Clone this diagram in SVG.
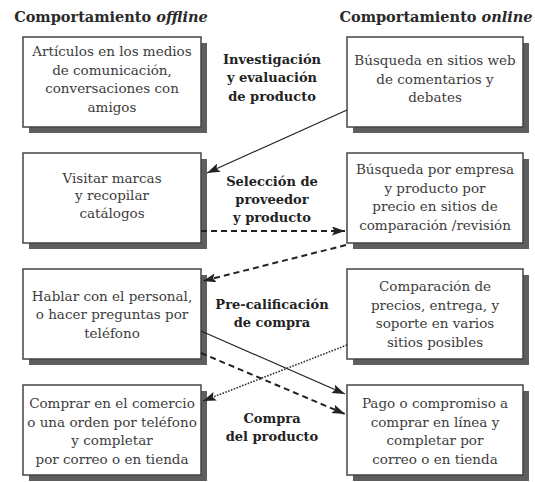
<svg xmlns="http://www.w3.org/2000/svg" width="535" height="482" viewBox="0 0 535 482">
<defs>
<style>
.hdr{font-family:"DejaVu Serif",serif;font-weight:bold;font-size:14.5px;fill:#2a2a2a;text-anchor:middle}
.lbl{font-family:"DejaVu Serif",serif;font-weight:bold;font-size:13px;fill:#222;text-anchor:middle}
.txt{font-family:"DejaVu Serif",serif;font-size:13.5px;fill:#3c3c3c;text-anchor:middle}
.box{fill:#fff;stroke:#444;stroke-width:1.5}
.sh{fill:#5e5e5e}
.ln{fill:none;stroke:#222;stroke-width:1.2}
.dash{fill:none;stroke:#222;stroke-width:2;stroke-dasharray:6 4}
.dot{fill:none;stroke:#333;stroke-width:1.6;stroke-dasharray:1.6 1.4}
</style>
<marker id="ah" viewBox="0 0 13 9" refX="13" refY="4.5" markerWidth="13" markerHeight="9" markerUnits="userSpaceOnUse" orient="auto">
<path d="M0,0 L13,4.5 L0,9 L2.5,4.5 Z" fill="#222"/>
</marker>
</defs>
<rect width="535" height="482" fill="#fff"/>
<text class="hdr" x="111" y="22">Comportamiento <tspan font-style="italic">offline</tspan></text>
<text class="hdr" x="436" y="22">Comportamiento <tspan font-style="italic">online</tspan></text>

<g id="l1">
<rect class="sh" x="29" y="43" width="178" height="90"/>
<rect class="box" x="23" y="37" width="178" height="90"/>
<text class="txt"><tspan x="112" y="56">Artículos en los medios</tspan><tspan x="112" y="74.5">de comunicación,</tspan><tspan x="112" y="93">conversaciones con</tspan><tspan x="112" y="111.5">amigos</tspan></text>
</g>
<g id="l2">
<rect class="sh" x="29" y="159" width="178" height="90"/>
<rect class="box" x="23" y="153" width="178" height="90"/>
<text class="txt"><tspan x="112" y="182.5">Visitar marcas</tspan><tspan x="112" y="200">y recopilar</tspan><tspan x="112" y="217.5">catálogos</tspan></text>
</g>
<g id="l3">
<rect class="sh" x="29" y="275" width="178" height="90"/>
<rect class="box" x="23" y="269" width="178" height="90"/>
<text class="txt"><tspan x="112" y="300.5">Hablar con el personal,</tspan><tspan x="112" y="319">o hacer preguntas por</tspan><tspan x="112" y="337.5">teléfono</tspan></text>
</g>
<g id="l4">
<rect class="sh" x="29" y="391" width="178" height="90"/>
<rect class="box" x="23" y="385" width="178" height="90"/>
<text class="txt"><tspan x="112" y="408">Comprar en el comercio</tspan><tspan x="112" y="426.5">o una orden por teléfono</tspan><tspan x="112" y="445">y completar</tspan><tspan x="112" y="463.5">por correo o en tienda</tspan></text>
</g>

<g id="r1">
<rect class="sh" x="353" y="43" width="176" height="90"/>
<rect class="box" x="347" y="37" width="176" height="90"/>
<text class="txt"><tspan x="435" y="65">Búsqueda en sitios web</tspan><tspan x="435" y="83.5">de comentarios y</tspan><tspan x="435" y="102">debates</tspan></text>
</g>
<g id="r2">
<rect class="sh" x="353" y="159" width="176" height="90"/>
<rect class="box" x="347" y="153" width="176" height="90"/>
<text class="txt"><tspan x="435" y="174">Búsqueda por empresa</tspan><tspan x="435" y="192.5">y producto por</tspan><tspan x="435" y="211">precio en sitios de</tspan><tspan x="435" y="229.5">comparación /revisión</tspan></text>
</g>
<g id="r3">
<rect class="sh" x="353" y="275" width="176" height="90"/>
<rect class="box" x="347" y="269" width="176" height="90"/>
<text class="txt"><tspan x="435" y="291">Comparación de</tspan><tspan x="435" y="309.5">precios, entrega, y</tspan><tspan x="435" y="328">soporte en varios</tspan><tspan x="435" y="346.5">sitios posibles</tspan></text>
</g>
<g id="r4">
<rect class="sh" x="353" y="391" width="176" height="90"/>
<rect class="box" x="347" y="385" width="176" height="90"/>
<text class="txt"><tspan x="435" y="408">Pago o compromiso a</tspan><tspan x="435" y="426.5">comprar en línea y</tspan><tspan x="435" y="445">completar por</tspan><tspan x="435" y="463.5">correo o en tienda</tspan></text>
</g>

<g id="labels">
<text class="lbl"><tspan x="272" y="63.5">Investigación</tspan><tspan x="272" y="82">y evaluación</tspan><tspan x="272" y="100.5">de producto</tspan></text>
<text class="lbl"><tspan x="272" y="186">Selección de</tspan><tspan x="272" y="204">proveedor</tspan><tspan x="272" y="222">y producto</tspan></text>
<text class="lbl"><tspan x="272" y="308.5">Pre-calificación</tspan><tspan x="272" y="326.5">de compra</tspan></text>
<text class="lbl"><tspan x="272" y="423">Compra</tspan><tspan x="272" y="441">del producto</tspan></text>
</g>

<g id="connectors">
<line class="ln" x1="347" y1="110" x2="207" y2="173" marker-end="url(#ah)"/>
<line class="dash" x1="201" y1="231" x2="345" y2="231" marker-end="url(#ah)"/>
<line class="dash" x1="346" y1="245" x2="203" y2="281" marker-end="url(#ah)"/>
<line class="ln" x1="201" y1="331" x2="345" y2="394" marker-end="url(#ah)"/>
<line class="dash" x1="201" y1="353" x2="345" y2="414" marker-end="url(#ah)"/>
<line class="dot" x1="347" y1="345" x2="203" y2="401" marker-end="url(#ah)"/>
</g>
</svg>
